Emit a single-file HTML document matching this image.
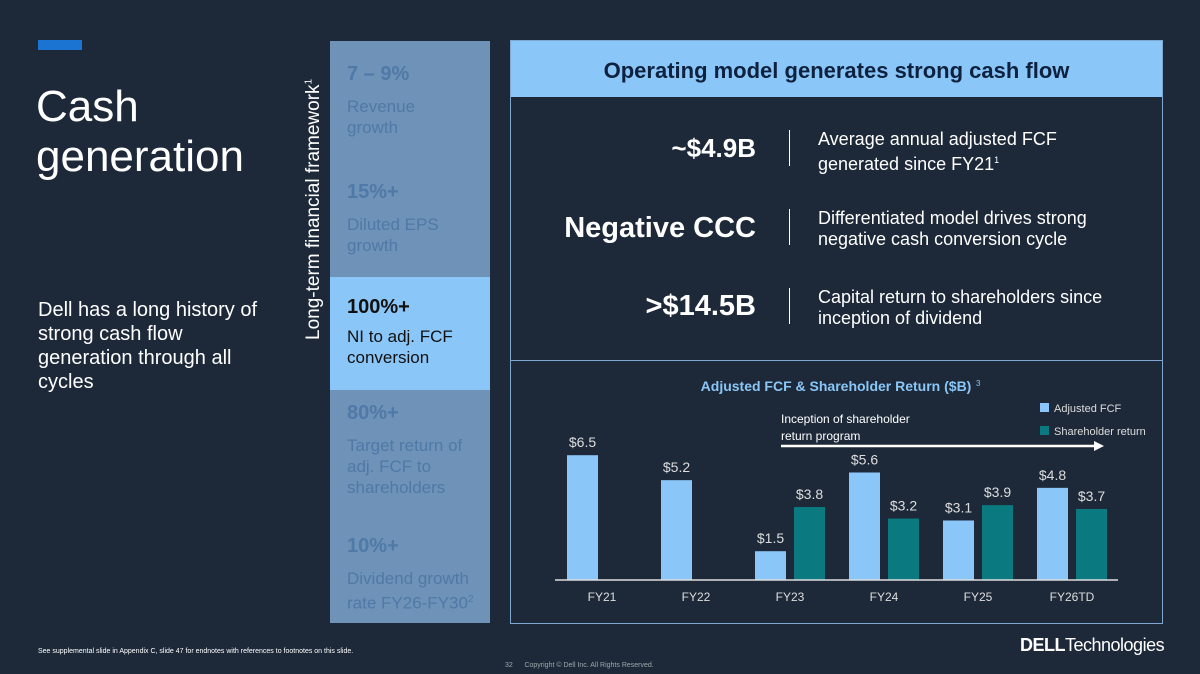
<!DOCTYPE html>
<html><head><meta charset="utf-8"><style>
body{margin:0;width:1200px;height:674px;background:#1d2939;position:relative;overflow:hidden;font-family:"Liberation Sans",sans-serif;color:#fff}
.a{position:absolute}
.pl{color:#4f79a6;font-size:17px;line-height:21px}
.pl b{font-size:20px;display:block;margin-bottom:11px}
</style></head><body>
<div class="a" style="left:38px;top:40px;width:44px;height:10px;background:#1b74d1"></div>
<div class="a" style="left:36px;top:82px;font-size:44px;line-height:50px">Cash<br>generation</div>
<div class="a" style="left:38px;top:298px;font-size:20px;line-height:24px">Dell has a long history of<br>strong cash flow<br>generation through all<br>cycles</div>
<div class="a" style="left:303px;top:340px;transform:rotate(-90deg);transform-origin:0 0;font-size:19px;white-space:nowrap">Long-term financial framework<sup style="font-size:10px">1</sup></div>
<div class="a" style="left:330px;top:41px;width:160px;height:582px;background:#6f92b8"></div>
<div class="a" style="left:330px;top:277px;width:160px;height:113px;background:#8ac6f7"></div>
<div class="a pl" style="left:347px;top:64px"><b>7 – 9%</b>Revenue<br>growth</div>
<div class="a pl" style="left:347px;top:182px"><b>15%+</b>Diluted EPS<br>growth</div>
<div class="a pl" style="left:347px;top:297px;color:#111"><b style="margin-bottom:8px">100%+</b>NI to adj. FCF<br>conversion</div>
<div class="a pl" style="left:347px;top:403px"><b>80%+</b>Target return of<br>adj. FCF to<br>shareholders</div>
<div class="a pl" style="left:347px;top:536px"><b>10%+</b>Dividend growth<br>rate FY26-FY30<sup style="font-size:10px">2</sup></div>
<div class="a" style="left:510px;top:40px;width:651px;height:582px;border:1px solid #7ea7d1"></div>
<div class="a" style="left:511px;top:41px;width:651px;height:56px;background:#8ac6f7;color:#0e2240;font-weight:bold;font-size:22px;text-align:center;line-height:60px">Operating model generates strong cash flow</div>
<div class="a" style="left:511px;top:360px;width:651px;height:1px;background:#7ea7d1"></div>
<div class="a" style="left:560px;top:133px;width:196px;text-align:right;font-weight:bold;font-size:26px">~$4.9B</div>
<div class="a" style="left:540px;top:212px;width:216px;text-align:right;font-weight:bold;font-size:29px">Negative CCC</div>
<div class="a" style="left:560px;top:290px;width:196px;text-align:right;font-weight:bold;font-size:29px">&gt;$14.5B</div>
<div class="a" style="left:789px;top:130px;width:1px;height:36px;background:#fff"></div>
<div class="a" style="left:789px;top:209px;width:1px;height:36px;background:#fff"></div>
<div class="a" style="left:789px;top:288px;width:1px;height:36px;background:#fff"></div>
<div class="a" style="left:818px;top:129px;font-size:18px;line-height:21px">Average annual adjusted FCF<br>generated since FY21<sup style="font-size:9px">1</sup></div>
<div class="a" style="left:818px;top:208px;font-size:18px;line-height:21px">Differentiated model drives strong<br>negative cash conversion cycle</div>
<div class="a" style="left:818px;top:287px;font-size:18px;line-height:21px">Capital return to shareholders since<br>inception of dividend</div>
<svg class="a" style="left:0;top:0" width="1200" height="674" id="ch"></svg>
<div class="a" style="left:38px;top:648px;font-size:7px">See supplemental slide in Appendix C, slide 47 for endnotes with references to footnotes on this slide.</div>
<div class="a" style="left:505px;top:662px;font-size:7px;color:#9aa">32&nbsp;&nbsp;&nbsp;&nbsp;&nbsp;&nbsp;Copyright © Dell Inc. All Rights Reserved.</div>
<div class="a" style="left:1020px;top:635px;font-size:18px;white-space:nowrap;letter-spacing:-0.5px"><b>DELL</b>Technologies</div>
<script>
const categories=["FY21","FY22","FY23","FY24","FY25","FY26TD"];
const fcf=[6.5,5.2,1.5,5.6,3.1,4.8];
const shr=[null,null,3.8,3.2,3.9,3.7];
const NS="http://www.w3.org/2000/svg",svg=document.getElementById('ch');
const base=580,k=19.2,x0=567,step=94,bw=31;
const y=v=>base-v*k;
function el(t,a,txt){const e=document.createElementNS(NS,t);for(const n in a)e.setAttribute(n,a[n]);if(txt!=null)e.textContent=txt;svg.appendChild(e);return e;}
let t=el('text',{x:836,y:391,'text-anchor':'middle','font-size':14,'font-weight':'bold',fill:'#8ac6f7','font-family':'Liberation Sans'},'Adjusted FCF & Shareholder Return ($B)');


el('text',{x:976,y:386,'font-size':8,fill:'#8ac6f7','font-family':'Liberation Sans'},'3');
categories.forEach((c,i)=>{
 const gx=x0+i*step;
 let r=el('rect',{x:gx,y:y(fcf[i]),width:bw,height:fcf[i]*k,fill:'#8ac6f7'});
 
 
 el('text',{x:gx+bw/2,y:y(fcf[i])-8,'text-anchor':'middle','font-size':14,fill:'#ddd','font-family':'Liberation Sans'},'$'+fcf[i].toFixed(1));
 if(shr[i]!=null){
  let s=el('rect',{x:gx+bw+8,y:y(shr[i]),width:bw,height:shr[i]*k,fill:'#0b7a80'});
  
  
  el('text',{x:gx+bw*1.5+8,y:y(shr[i])-8,'text-anchor':'middle','font-size':14,fill:'#ddd','font-family':'Liberation Sans'},'$'+shr[i].toFixed(1));
 }
 let l=el('text',{x:gx+35,y:base+21,'text-anchor':'middle','font-size':12,fill:'#ddd','font-family':'Liberation Sans'},c);
 
 
});
el('line',{x1:555,x2:1118,y1:base,y2:base,stroke:'#ddd','stroke-width':1.5});
el('line',{x1:781,x2:1096,y1:446,y2:446,stroke:'#fff','stroke-width':2.5});
el('polygon',{points:'1094,441 1104,446 1094,451',fill:'#fff'});
el('text',{x:781,y:423,'font-size':12,fill:'#fff','font-family':'Liberation Sans'},'Inception of shareholder');
el('text',{x:781,y:440,'font-size':12,fill:'#fff','font-family':'Liberation Sans'},'return program');
let g1=el('rect',{x:1040,y:403,width:9,height:9,fill:'#8ac6f7'});


el('text',{x:1054,y:412,'font-size':11,fill:'#ddd','font-family':'Liberation Sans'},'Adjusted FCF');
let g2=el('rect',{x:1040,y:426,width:9,height:9,fill:'#0b7a80'});


el('text',{x:1054,y:435,'font-size':11,fill:'#ddd','font-family':'Liberation Sans'},'Shareholder return');
</script>
</body></html>
